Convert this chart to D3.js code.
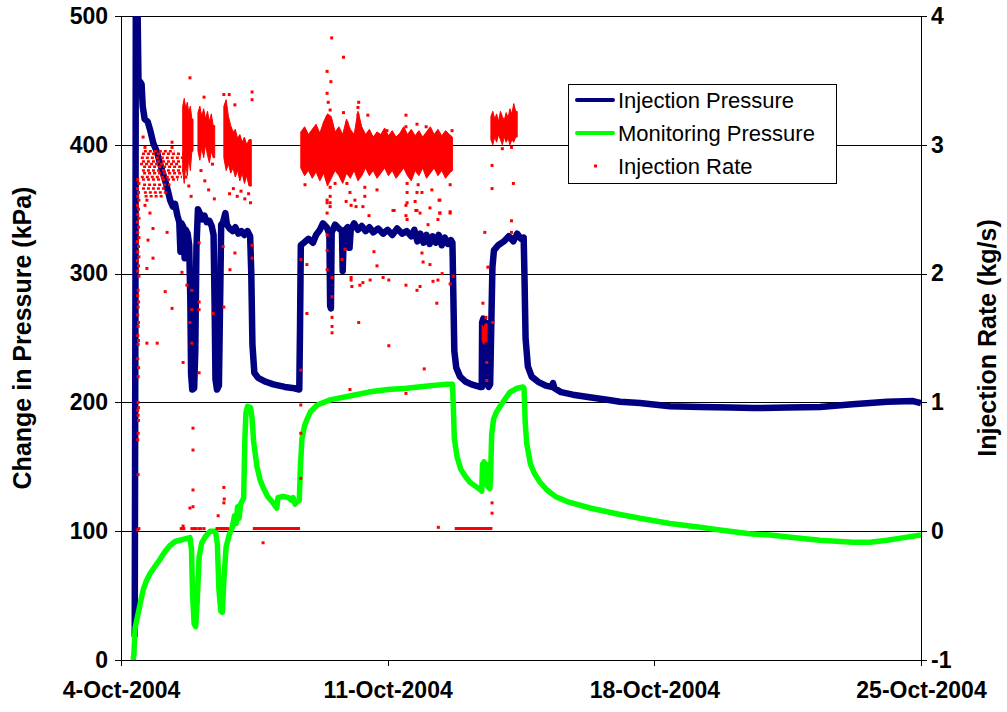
<!DOCTYPE html>
<html>
<head>
<meta charset="utf-8">
<script src="https://cdn.jsdelivr.net/npm/d3@7"></script>
<style>
  body { margin: 0; background: #fff; }
  svg { display: block; font-family: "Liberation Sans", Arial, sans-serif; }
  .axis text { font-size: 23px; font-weight: bold; fill: #000; }
  .axis path, .axis line { stroke: #000; shape-rendering: crispEdges; }
  .grid line { stroke: #000; shape-rendering: crispEdges; }
  .title { font-size: 25px; font-weight: bold; }
  .legend text { font-size: 22px; }
</style>
</head>
<body>
<svg id="chart" width="1007" height="712"></svg>
<script>
// ===================================
// Data (time in days after 4-Oct-2004 00:00)
// ===================================

const START_DATE = new Date(2004, 9, 4);
const END_DATE = new Date(2004, 9, 25);
const DATE_TICKS = ['2004-10-04', '2004-10-11', '2004-10-18', '2004-10-25'];
const PRESSURE_TICKS = [0, 100, 200, 300, 400, 500];
const RATE_TICKS = [-1, 0, 1, 2, 3, 4];
const SERIES_NAMES = ['Injection Pressure', 'Monitoring Pressure', 'Injection Rate'];

// [day, kPa]
const injectionPressure = [
  [0.36,18],[0.38,300],[0.39,540],[0.42,540],[0.46,447],[0.50,449],[0.54,447],[0.57,430],[0.62,420],
  [0.70,418],[0.76,412],[0.85,401],[0.95,394],[1.02,386],[1.10,378],[1.20,368],[1.29,357],[1.36,352],
  [1.42,354],[1.48,345],[1.53,340],[1.56,317],[1.59,339],[1.64,336],[1.67,312],[1.70,334],[1.75,331],
  [1.79,322],[1.82,280],[1.84,222],[1.87,210],[1.92,211],[1.95,240],[1.98,320],[2.02,350],[2.07,347],
  [2.13,342],[2.19,345],[2.25,340],[2.32,341],[2.38,337],[2.43,330],[2.46,270],[2.48,218],[2.52,210],
  [2.57,213],[2.60,275],[2.63,338],[2.68,340],[2.74,347],[2.78,338],[2.85,335],[2.93,333],[3.00,336],
  [3.08,331],[3.16,333],[3.24,330],[3.32,333],[3.39,329],[3.42,300],[3.45,245],[3.50,223],[3.60,219],
  [3.80,216],[4.00,214],[4.30,212],[4.55,211],[4.68,210],[4.70,260],[4.72,322],[4.80,324],[4.92,327],
  [5.04,324],[5.12,330],[5.22,334],[5.30,339],[5.40,336],[5.47,331],[5.49,275],[5.51,273],[5.53,332],
  [5.62,338],[5.72,335],[5.80,333],[5.82,302],[5.85,333],[5.95,336],[6.00,320],[6.03,334],[6.12,339],
  [6.22,334],[6.32,337],[6.42,333],[6.52,336],[6.62,332],[6.75,335],[6.88,331],[7.00,334],[7.12,330],
  [7.25,335],[7.38,331],[7.50,333],[7.62,329],[7.70,334],[7.78,325],[7.86,331],[7.94,324],[8.02,330],
  [8.10,323],[8.18,329],[8.26,324],[8.34,330],[8.42,322],[8.50,328],[8.58,323],[8.66,326],[8.70,324],
  [8.72,290],[8.75,240],[8.80,227],[8.90,220],[9.05,216],[9.20,214],[9.42,212],[9.47,212],[9.48,262],
  [9.51,265],[9.54,258],[9.57,262],[9.59,215],[9.65,212],[9.69,214],[9.72,260],[9.75,305],[9.79,318],
  [9.90,322],[10.05,325],[10.18,329],[10.30,325],[10.40,331],[10.50,327],[10.57,328],[10.59,300],
  [10.62,250],[10.68,228],[10.78,220],[10.95,216],[11.15,213],[11.30,212],[11.34,215],[11.38,211],
  [11.55,208],[11.86,206],[12.30,204],[12.76,202],[13.10,200.5],[13.62,199.5],[14.41,197],[15.20,196.5],
  [16.00,196],[16.59,195.6],[17.50,196],[18.35,196.5],[19.20,198.5],[19.66,199.5],[20.11,200.5],
  [20.79,201],[21.00,199.5]
];

// [day, kPa]
const monitoringPressure = [
  [0.32,0],[0.34,5],[0.37,25],[0.45,36],[0.52,46],[0.58,54],[0.66,61],[0.76,67],[0.90,73],[1.02,78],
  [1.15,84],[1.29,89],[1.42,92],[1.55,93],[1.68,94],[1.81,95],[1.85,86],[1.88,50],[1.92,28],[1.96,26],
  [2.00,45],[2.05,80],[2.12,91],[2.22,96],[2.34,100],[2.48,100],[2.53,90],[2.57,55],[2.62,38],[2.66,37],
  [2.70,62],[2.76,88],[2.84,97],[2.92,103],[2.98,112],[3.02,106],[3.06,119],[3.10,110],[3.14,121],
  [3.19,124],[3.22,126],[3.25,170],[3.28,192],[3.32,197],[3.40,196],[3.44,188],[3.48,170],[3.57,150],
  [3.65,140],[3.73,134],[3.85,127],[3.99,122],[4.09,118],[4.12,126],[4.25,127],[4.40,126],[4.48,124],
  [4.52,126],[4.57,121],[4.62,123],[4.68,124],[4.71,150],[4.75,172],[4.82,182],[4.90,188],[4.98,193],
  [5.15,198],[5.49,202],[6.00,205],[6.50,208],[7.00,210],[7.50,211],[8.11,213],[8.50,214],[8.70,214],
  [8.72,200],[8.75,172],[8.82,158],[8.92,148],[9.05,142],[9.16,138],[9.30,135],[9.44,132],[9.47,131],
  [9.49,152],[9.51,138],[9.53,154],[9.56,141],[9.59,152],[9.62,135],[9.68,133],[9.70,140],[9.73,175],
  [9.78,187],[9.85,192],[9.95,197],[10.21,208],[10.40,211],[10.55,212],[10.58,211],[10.61,185],
  [10.65,168],[10.75,152],[10.85,145],[11.00,138],[11.18,132],[11.40,127],[11.71,123],[12.31,118],
  [13.10,113],[13.62,110],[14.41,106],[15.20,103],[15.72,101],[16.50,98],[17.04,97],[17.70,95],
  [18.35,93],[19.21,91.5],[19.66,91.5],[20.11,93],[20.55,95],[21.00,97]
];

// Injection rate, dense parts of the record: [day, low kg/s, high kg/s]
const rateBandEarly = [
  [1.62,2.80,3.30],[1.66,2.70,3.36],[1.70,2.85,3.28],[1.74,2.76,3.33],[1.78,2.90,3.25],[1.82,2.80,3.30],
  [1.86,2.95,3.20],[1.89,2.95,3.20]
];
const rateBandSecond = [
  [2.02,2.95,3.25],[2.07,2.88,3.30],[2.12,2.98,3.22],[2.17,2.90,3.28],[2.22,3.00,3.20],[2.27,2.92,3.26],
  [2.32,2.86,3.18],[2.37,2.95,3.24],[2.42,2.90,3.15],[2.46,2.90,3.15]
];
const rateBandThird = [
  [2.70,2.90,3.30],[2.76,2.80,3.35],[2.82,2.85,3.22],[2.88,2.78,3.15],[2.94,2.82,3.10],[3.00,2.75,3.12],
  [3.06,2.80,3.05],[3.12,2.72,3.08],[3.18,2.78,3.02],[3.24,2.70,3.06],[3.30,2.76,3.00],[3.36,2.68,3.04],
  [3.42,2.68,3.04]
];
const rateBandMain = [
  [4.72,2.82,3.10],[4.82,2.76,3.14],[4.92,2.80,3.08],[5.02,2.74,3.12],[5.12,2.79,3.16],[5.22,2.72,3.09],
  [5.32,2.78,3.18],[5.42,2.68,3.24],[5.52,2.74,3.22],[5.62,2.80,3.10],[5.72,2.76,3.14],[5.82,2.70,3.08],
  [5.92,2.78,3.20],[6.02,2.74,3.12],[6.12,2.80,3.08],[6.22,2.72,3.26],[6.32,2.76,3.14],[6.42,2.82,3.08],
  [6.52,2.76,3.12],[6.62,2.80,3.06],[6.72,2.74,3.10],[6.82,2.78,3.08],[6.92,2.82,3.13],[7.02,2.76,3.07],
  [7.12,2.80,3.11],[7.22,2.74,3.06],[7.32,2.78,3.09],[7.42,2.82,3.14],[7.52,2.76,3.08],[7.62,2.72,3.12],
  [7.72,2.80,3.07],[7.82,2.76,3.11],[7.92,2.82,3.06],[8.02,2.74,3.10],[8.12,2.78,3.14],[8.22,2.82,3.08],
  [8.32,2.76,3.12],[8.42,2.80,3.07],[8.52,2.74,3.11],[8.62,2.78,3.08],[8.70,2.80,3.06]
];
const rateBandLate = [
  [9.71,3.04,3.22],[9.76,3.00,3.26],[9.81,3.06,3.20],[9.86,3.02,3.24],[9.91,3.08,3.18],[9.96,3.04,3.26],
  [10.01,3.00,3.22],[10.06,3.06,3.19],[10.11,3.02,3.25],[10.16,3.05,3.21],[10.21,3.00,3.28],
  [10.26,3.04,3.24],[10.31,3.02,3.32],[10.36,3.06,3.26],[10.40,3.06,3.26]
];
const rateBandPartial = [
  [9.48,1.48,1.60],[9.52,1.45,1.58],[9.56,1.47,1.61],[9.61,1.47,1.61]
];
// shut-in periods logged at ~0 kg/s: [start day, end day, kg/s]
const rateZeroRuns = [
  [3.46, 4.70, 0.02], [8.76, 9.75, 0.02]
];
// quantised rows of readings in the first day: [kg/s, start day, end day]
const rateRows = [
  [2.95,0.60,1.40],[2.93,0.55,1.66],[2.90,0.52,1.70],[2.87,0.55,1.76],[2.85,0.50,1.55],[2.83,0.58,1.73],
  [2.80,0.55,1.63],[2.78,0.58,1.66],[2.75,0.52,1.60],[2.73,0.55,1.50],[2.69,0.58,1.30],[2.66,0.55,1.20],
  [2.63,0.60,1.25],[2.60,0.62,1.10]
];
// scattered single readings: [day, kg/s]
const rateDots = [
  [0.44,2.73],[0.47,2.70],[0.43,2.66],[0.46,2.63],[0.44,2.60],[0.47,2.57],[0.43,2.53],[0.46,2.50],
  [0.44,2.46],[0.47,2.43],[0.43,2.40],[0.46,2.36],[0.44,2.32],[0.47,2.28],[0.43,2.25],[0.46,2.21],
  [0.44,2.17],[0.47,2.13],[0.43,2.10],[0.46,2.06],[0.44,2.02],[0.47,1.98],[0.45,1.87],[0.44,1.83],
  [0.46,1.78],[0.45,1.74],[0.44,1.68],[0.46,1.62],[0.45,1.59],[0.44,1.52],[0.46,1.48],[0.45,1.45],
  [0.44,1.34],[0.46,1.27],[0.45,1.20],[0.45,1.00],[0.46,0.96],[0.44,0.94],[0.45,0.90],[0.46,0.86],
  [0.45,0.76],[0.44,0.71],[0.45,0.44],[0.44,0.01],[0.47,0.02],
  [0.68,2.57],[0.63,2.53],[0.76,2.47],[0.84,2.35],[0.71,2.26],[1.21,2.32],[0.84,2.12],[0.68,2.04],
  [0.95,1.46],[0.68,1.46],[1.16,1.86],[1.34,1.73],[1.60,2.01],[1.73,1.91],[1.86,1.87],[1.86,1.72],
  [1.81,1.62],[1.86,1.46],[1.63,1.31],[2.05,2.24],[2.05,1.78],[2.05,1.72],[2.05,1.23],[2.42,1.69],
  [2.68,2.21],[2.99,2.16],[2.86,2.03],[2.70,1.74],[3.44,2.22],[3.44,2.12],[1.89,0.80],[1.89,0.63],
  [1.89,0.32],[1.89,0.19],[1.81,0.18],[2.70,0.34],[2.70,0.22],[2.71,0.25],[2.55,0.12],[3.73,-0.09],
  [1.34,3.02],[1.34,2.98],[0.58,3.06],[0.63,2.98],[1.81,3.52],[2.18,3.37],[2.70,3.39],[2.84,3.39],
  [2.99,3.31],[3.44,3.41],[3.44,3.35],
  [1.70,2.75],[1.78,2.68],[1.84,2.60],[2.10,2.80],[2.20,2.72],[2.30,2.65],[2.40,2.85],[2.45,2.58],
  [2.85,2.62],[2.95,2.66],[3.05,2.60],[3.15,2.64],[3.25,2.58],[3.35,2.62],[3.40,2.55],
  [1.58,0.02],[1.61,0.02],[1.63,0.04],[1.65,0.02],[1.86,0.02],[1.92,0.02],[1.96,0.02],[2.04,0.02],
  [2.10,0.02],[2.18,0.02],[2.52,0.02],[2.55,0.02],[2.58,0.02],[2.61,0.02],[2.64,0.02],[2.67,0.02],
  [2.70,0.02],[2.73,0.02],[2.76,0.02],[2.80,0.02],[8.33,0.03],
  [5.53,3.83],[5.84,3.68],[5.41,3.57],[5.51,3.49],[5.41,3.40],[5.44,3.33],[5.49,3.27],[5.41,3.21],
  [5.84,3.25],[6.24,3.33],[6.22,3.29],[6.22,3.23],[6.24,3.18],[5.93,3.17],[6.48,3.23],[7.48,3.23],
  [7.48,3.14],[7.77,3.16],[8.01,3.14],[6.98,3.11],[8.69,3.11],
  [5.49,2.67],[5.49,2.60],[5.49,2.55],[5.41,2.47],[4.83,2.69],[5.49,2.75],[6.40,2.67],[6.40,2.60],
  [6.14,2.57],[6.01,2.63],[6.72,2.65],[7.14,2.49],[7.51,2.70],[7.51,2.63],[7.51,2.55],[7.51,2.42],
  [7.77,2.63],[7.80,2.69],[7.77,2.49],[7.90,2.63],[8.16,2.65],[8.37,2.57],[8.37,2.47],[8.32,2.42],
  [8.64,2.69],[8.64,2.48],[8.06,2.38],[5.22,2.75],[5.62,2.70],[5.93,2.70],[6.19,2.80],
  [5.41,2.57],[5.41,2.30],[5.41,2.18],[5.41,2.03],[5.54,1.97],[5.54,1.82],[5.54,1.66],[5.54,1.59],
  [5.54,1.54],[4.88,2.07],[4.88,1.69],[4.72,1.25],[4.72,2.11],[5.80,2.11],[5.88,2.19],[6.04,1.97],
  [6.04,1.95],[6.06,1.90],[6.27,1.91],[6.24,1.62],[6.35,1.93],[6.54,1.95],[6.64,2.17],[6.72,2.06],
  [6.88,1.97],[7.03,1.95],[7.03,1.44],[7.48,1.91],[7.77,1.87],[7.85,1.90],[7.96,1.26],[8.19,1.94],
  [8.32,1.95],[8.29,1.77],[8.43,2.00],[8.64,1.92],[7.48,1.07],[6.01,1.10],[7.93,2.09],[8.11,2.07],
  [7.90,2.16],[4.72,0.98],[4.72,0.76],[4.72,0.41],
  [5.41,2.55],[5.49,2.52],[5.91,2.56],[6.04,2.53],[6.17,2.52],[6.35,2.52],[6.51,2.45],[7.17,2.49],
  [7.48,2.53],[7.48,2.45],[7.72,2.56],[7.74,2.49],[7.85,2.47],[8.11,2.51],[8.35,2.57],[8.37,2.47],
  [8.64,2.47],[8.72,1.98],
  [9.74,2.84],[9.74,2.66],[10.30,2.70],[10.25,2.41],[10.25,2.32],[10.01,2.97],[10.25,2.98],
  [9.55,2.32],[9.63,2.05],[9.50,1.77],[9.58,1.66],[9.76,1.62],[9.60,1.31],[9.60,1.17],[9.74,0.22],
  [9.74,0.14]
];

// ===================================
// Scales
// ===================================

const margin = { left: 121, right: 921, top: 16, bottom: 660 };
const toDate = d => new Date(START_DATE.getTime() + d * 864e5);

const x = d3.scaleTime().domain([START_DATE, END_DATE]).range([margin.left, margin.right]);
const yP = d3.scaleLinear().domain([0, 500]).range([margin.bottom, margin.top]);
const yR = d3.scaleLinear().domain([-1, 4]).range([margin.bottom, margin.top]);

const svg = d3.select('#chart');

svg.append('defs').append('clipPath').attr('id', 'plot-clip')
  .append('rect')
  .attr('x', margin.left).attr('y', margin.top)
  .attr('width', margin.right - margin.left).attr('height', margin.bottom - margin.top);

// ===================================
// Grid and axes
// ===================================

svg.append('g').attr('class', 'grid')
  .selectAll('line')
  .data(PRESSURE_TICKS.filter(v => v > 0))
  .join('line')
  .attr('x1', margin.left).attr('x2', margin.right)
  .attr('y1', d => Math.round(yP(d)) + 0.5).attr('y2', d => Math.round(yP(d)) + 0.5);

svg.append('g').attr('class', 'axis')
  .attr('transform', `translate(${margin.left},0)`)
  .call(d3.axisLeft(yP).tickValues(PRESSURE_TICKS).tickSize(6).tickSizeOuter(0).tickPadding(7));

svg.append('g').attr('class', 'axis')
  .attr('transform', `translate(${margin.right},0)`)
  .call(d3.axisRight(yR).tickValues(RATE_TICKS).tickSize(6).tickSizeOuter(0).tickPadding(4)
    .tickFormat(d => String(d)));

const parseDay = d3.timeParse('%Y-%m-%d');
svg.append('g').attr('class', 'axis')
  .attr('transform', `translate(0,${margin.bottom})`)
  .call(d3.axisBottom(x).tickValues(DATE_TICKS.map(parseDay)).tickSize(6).tickSizeOuter(0)
    .tickPadding(16).tickFormat(d3.timeFormat('%-d-%b-%Y')));

// Axis titles
svg.append('text').attr('class', 'title')
  .attr('transform', `translate(31,${(margin.top + margin.bottom) / 2}) rotate(-90)`)
  .attr('text-anchor', 'middle')
  .text('Change in Pressure (kPa)');

svg.append('text').attr('class', 'title')
  .attr('transform', `translate(996,${(margin.top + margin.bottom) / 2}) rotate(-90)`)
  .attr('text-anchor', 'middle')
  .text('Injection Rate (kg/s)');

// ===================================
// Series
// ===================================

const plot = svg.append('g').attr('clip-path', 'url(#plot-clip)');

const pressureLine = d3.line()
  .x(d => x(toDate(d[0])))
  .y(d => yP(d[1]));

plot.append('path')
  .datum(injectionPressure)
  .attr('d', pressureLine)
  .attr('fill', 'none')
  .attr('stroke', '#000080')
  .attr('stroke-width', 6.5)
  .attr('stroke-linejoin', 'round');

plot.append('path')
  .datum(monitoringPressure)
  .attr('d', pressureLine)
  .attr('fill', 'none')
  .attr('stroke', '#00ff00')
  .attr('stroke-width', 5.5)
  .attr('stroke-linejoin', 'round');

// Injection rate (drawn last, on top)
const rateGroup = plot.append('g').attr('fill', '#ff0000').attr('stroke', '#ff0000');

const rateArea = d3.area()
  .x(d => x(toDate(d[0])))
  .y0(d => yR(d[1]))
  .y1(d => yR(d[2]));

rateGroup.selectAll('path.band')
  .data([rateBandEarly, rateBandSecond, rateBandThird, rateBandMain, rateBandLate, rateBandPartial])
  .join('path')
  .attr('class', 'band')
  .attr('stroke-width', 1)
  .attr('d', rateArea);

rateGroup.selectAll('line.zero')
  .data(rateZeroRuns)
  .join('line')
  .attr('class', 'zero')
  .attr('x1', d => x(toDate(d[0]))).attr('x2', d => x(toDate(d[1])))
  .attr('y1', d => yR(d[2])).attr('y2', d => yR(d[2]))
  .attr('stroke-width', 3);

rateGroup.selectAll('line.row')
  .data(rateRows)
  .join('line')
  .attr('class', 'row')
  .attr('x1', d => x(toDate(d[1]))).attr('x2', d => x(toDate(d[2])))
  .attr('y1', d => yR(d[0])).attr('y2', d => yR(d[0]))
  .attr('stroke-width', 2.5)
  .attr('stroke-dasharray', '3 2');

rateGroup.selectAll('rect.dot')
  .data(rateDots)
  .join('rect')
  .attr('class', 'dot')
  .attr('stroke', 'none')
  .attr('x', d => x(toDate(d[0])) - 1.5)
  .attr('y', d => yR(d[1]) - 1.5)
  .attr('width', 3)
  .attr('height', 3);

// ===================================
// Legend
// ===================================

const legend = svg.append('g').attr('class', 'legend');
legend.append('rect')
  .attr('x', 568.5).attr('y', 84.5).attr('width', 268).attr('height', 99)
  .attr('fill', '#fff').attr('stroke', '#000').attr('stroke-width', 1);

const legendColors = ['#000080', '#00ff00', '#ff0000'];
SERIES_NAMES.forEach((name, i) => {
  const cy = 100 + i * 33;
  if (i < 2) {
    legend.append('line')
      .attr('x1', 577).attr('x2', 613).attr('y1', cy).attr('y2', cy)
      .attr('stroke', legendColors[i]).attr('stroke-width', 4).attr('stroke-linecap', 'round');
  } else {
    legend.append('rect')
      .attr('x', 594).attr('y', cy - 1.5).attr('width', 3).attr('height', 3)
      .attr('fill', legendColors[i]);
  }
  legend.append('text')
    .attr('x', 618).attr('y', cy + 8)
    .text(name);
});
</script>
</body>
</html>
